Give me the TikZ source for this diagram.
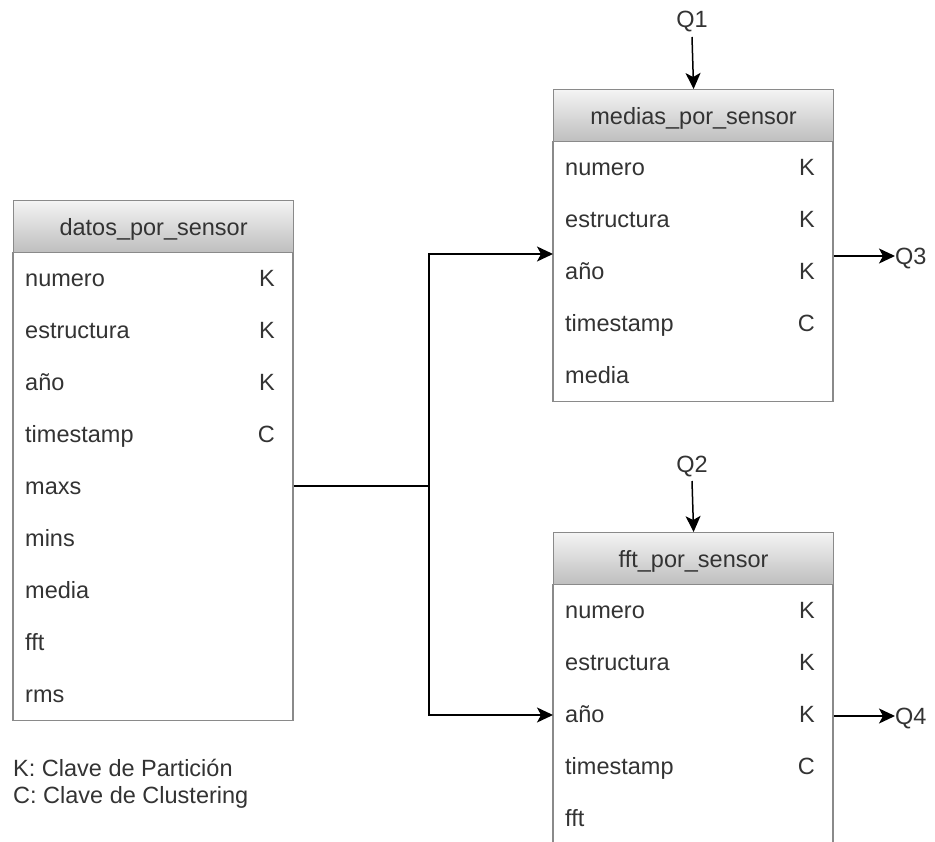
\documentclass[tikz,border=0pt]{standalone}
\usepackage{fontspec}
\setmainfont{Liberation Sans}
\usetikzlibrary{arrows.meta}

\definecolor{boxline}{HTML}{8A8A8A}
\definecolor{inktext}{HTML}{333333}
\definecolor{headtop}{HTML}{F4F4F4}
\definecolor{headbottom}{HTML}{BEBEBE}

\tikzset{
  tablehead/.style={draw=boxline, line width=1.2pt, top color=headtop, bottom color=headbottom,
    minimum width=280pt, minimum height=52pt, inner sep=0pt, text=inktext,
    text height=17pt, text depth=0pt},
  tablebody/.style={draw=boxline, line width=1.2pt, fill=white, minimum width=280pt,
    inner sep=0pt, anchor=north},
  field/.style={anchor=base west, inner sep=0pt, text=inktext},
  keytag/.style={anchor=base east, inner sep=0pt, text=inktext},
  link/.style={draw=black, line width=1.5pt, -{Stealth[length=16pt,width=15pt,inset=4pt]}},
  plainlink/.style={draw=black, line width=1.5pt},
  query/.style={inner sep=0pt, text=inktext, text height=17pt, text depth=0pt},
}

% #1 name, #2 left x, #3 top y, #4 title, #5 number of fields, #6 field/key list
\newcommand\erTable[6]{%
  \node[tablebody, minimum height=#5*52pt] (#1-body) at (#2+140,#3+52) {};
  \node[tablehead, anchor=north west] (#1) at (#2,#3) {#4};
  \foreach \f/\k [count=\i] in {#6} {
    \node[field] (#1-f\i) at (#2+12,#3+52+52*\i-26+8.5) {\f};
    \node[keytag] (#1-k\i) at (#2+262,#3+52+52*\i-26+8.5) {\k};
  }%
}

\begin{document}
\begin{tikzpicture}[x=1pt, y=-1pt, font=\fontsize{23.5}{28}\selectfont]
\useasboundingbox (0,0) rectangle (935,842);
\fill[white] (0,0) rectangle (935,842);

% tables
\erTable{datos}{13}{200}{datos\_por\_sensor}{9}{numero/K, estructura/K, año/K, timestamp/C,
  maxs/{}, mins/{}, media/{}, fft/{}, rms/{}}
\erTable{medias}{553}{89}{medias\_por\_sensor}{5}{numero/K, estructura/K, año/K, timestamp/C, media/{}}
\erTable{ffts}{553}{532}{fft\_por\_sensor}{6}{numero/K, estructura/K, año/K, timestamp/C, fft/{}, {}/{}}

% legend
\node[field] (legendK) at (13,776) {K: Clave de Partición};
\node[field] (legendC) at (13,803) {C: Clave de Clustering};

% query labels
\node[query] (q1) at (692,19) {Q1};
\node[query] (q2) at (692,464) {Q2};
\node[query, anchor=west] (q3) at (895,256) {Q3};
\node[query, anchor=west] (q4) at (895,716) {Q4};

% data flow from the source table to both derived tables
\coordinate (split) at (429,486);
\coordinate (mediasIn) at (553,254);
\coordinate (fftsIn) at (553,715);
\draw[plainlink] (datos-body.east |- split) -- (split);
\draw[link] (split) |- (mediasIn);
\draw[link] (split) |- (fftsIn);

% queries
\draw[link] (692,37) -- (medias.north);
\draw[link] (692,481) -- (ffts.north);
\draw[link] (medias-body.east |- q3) -- (q3.west);
\draw[link] (ffts-body.east |- q4) -- (q4.west);
\end{tikzpicture}
\end{document}
